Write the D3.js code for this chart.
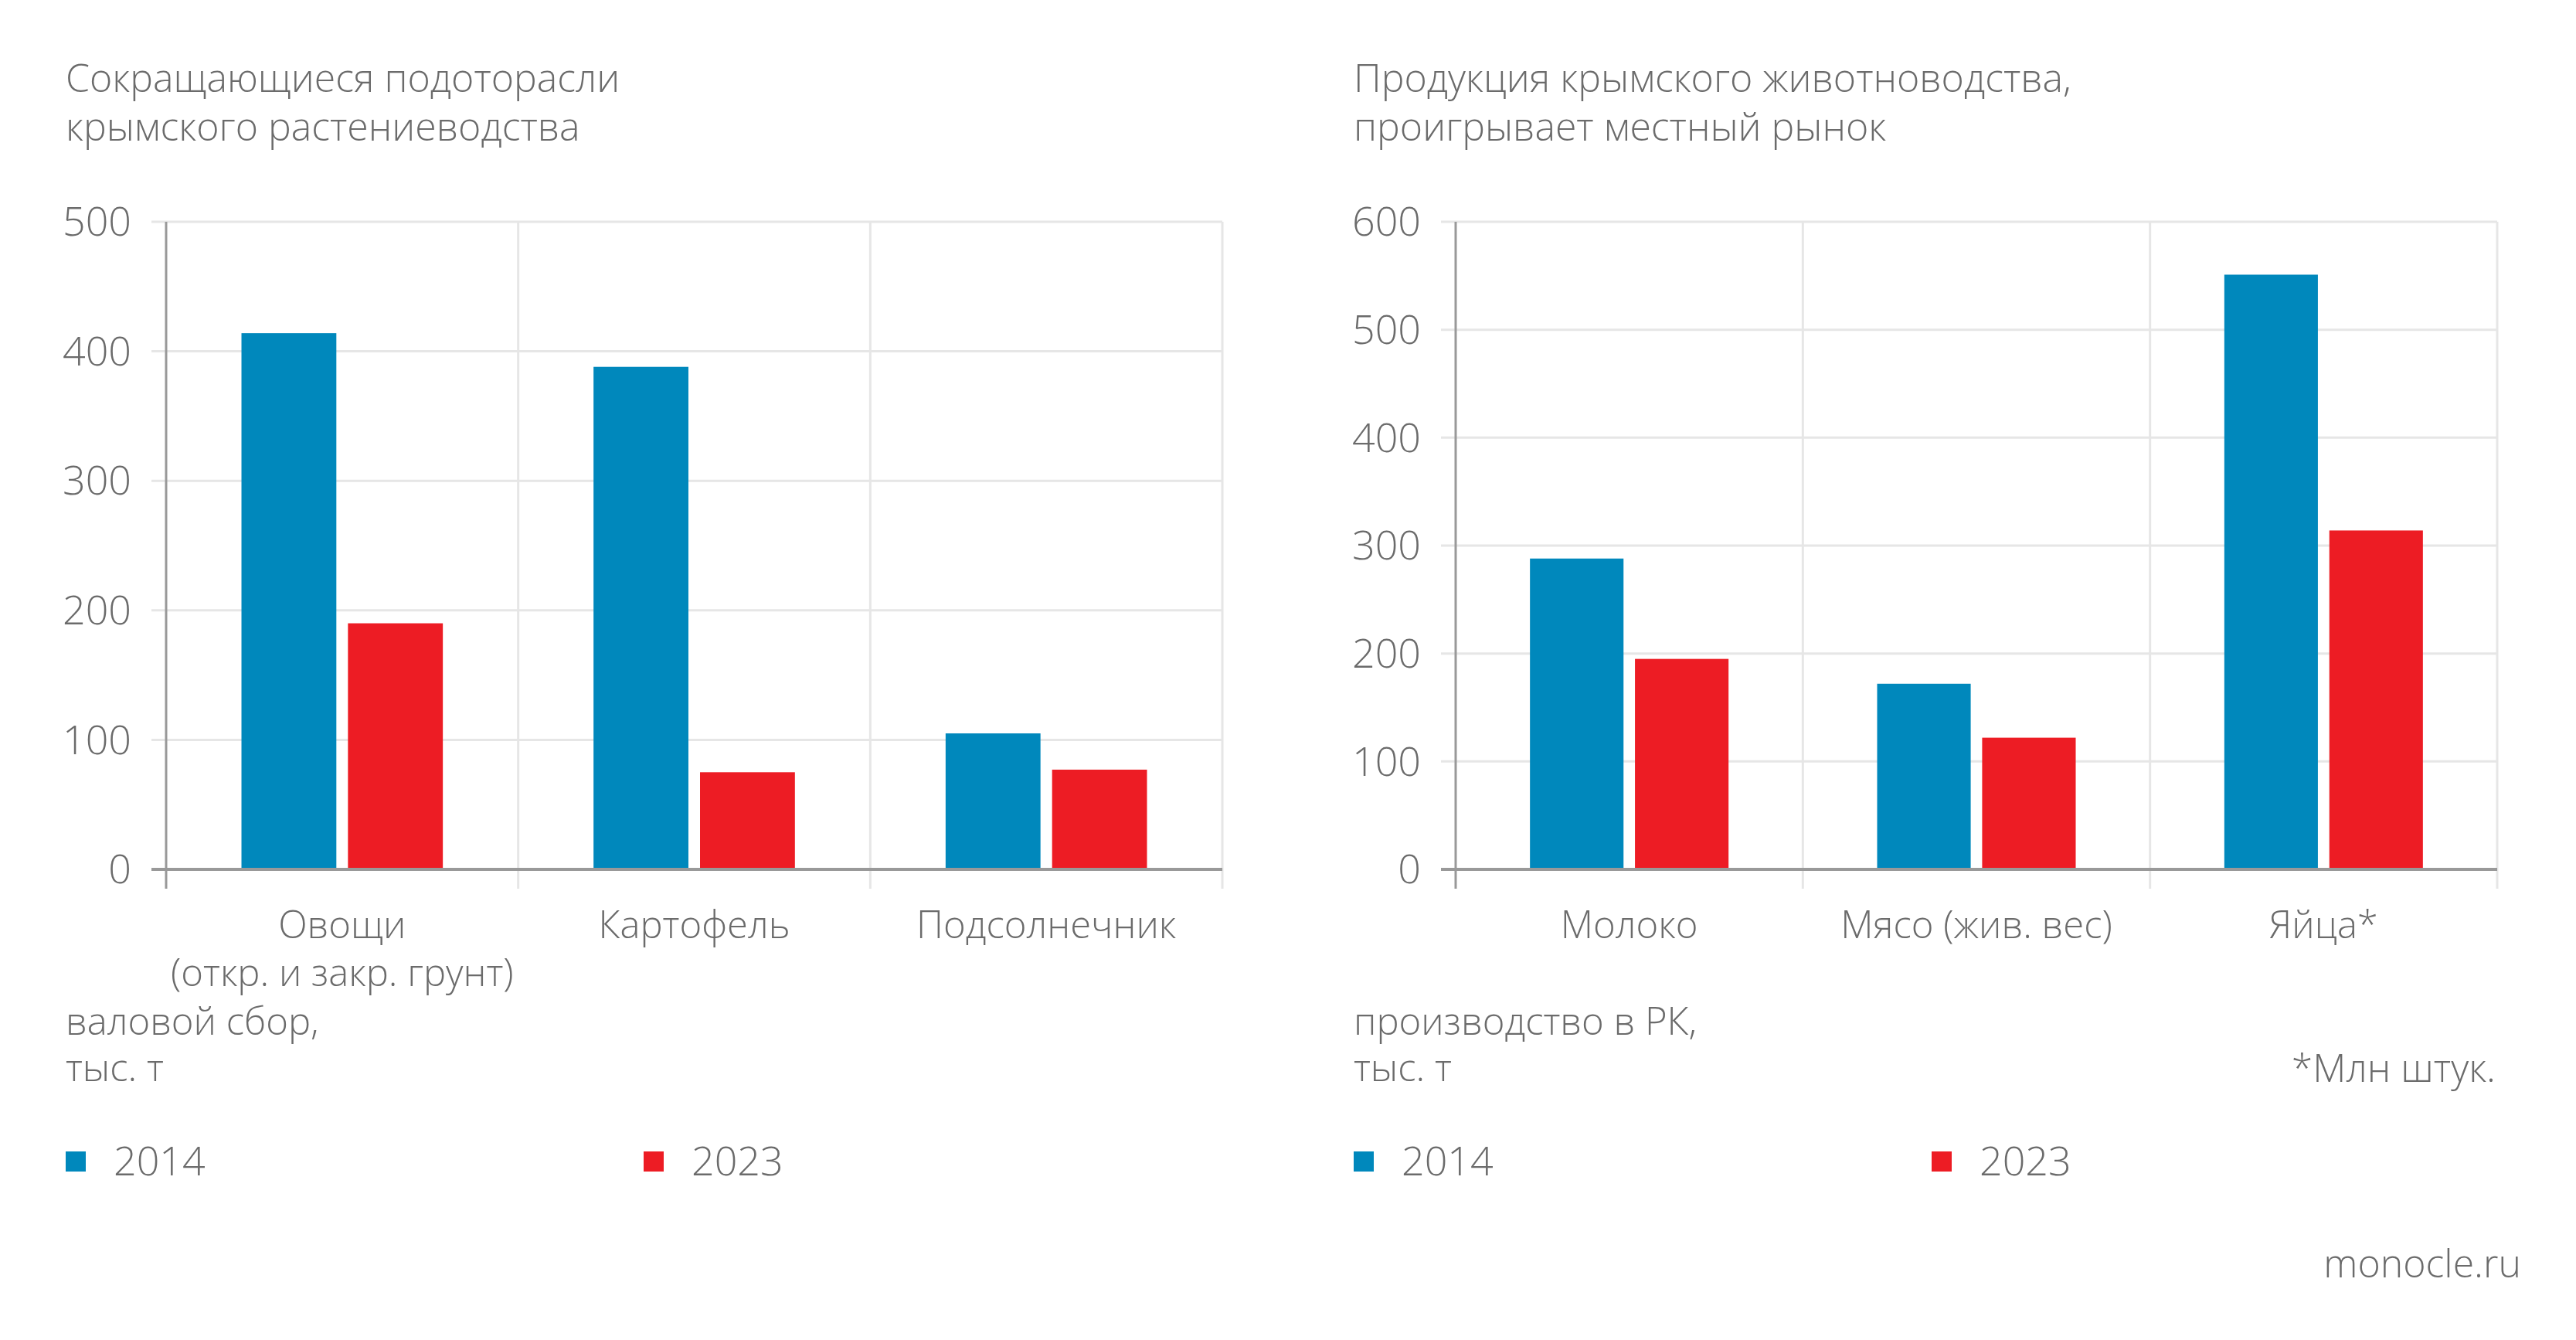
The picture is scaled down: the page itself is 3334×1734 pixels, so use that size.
<!DOCTYPE html>
<html><head><meta charset="utf-8">
<script src="https://cdn.jsdelivr.net/npm/d3@7"></script>
<style>
html,body{margin:0;padding:0;background:#fff;}
text{font-family:"Open Sans","Noto Sans",sans-serif;fill:#6b6b6b;font-weight:300;}
</style></head>
<body><svg id="c" width="3334" height="1734"></svg>
<script>
const series = ["2014", "2023"];
const colors = ["#0088bc", "#ed1c24"];

const leftCategories = ["Овощи", "Картофель", "Подсолнечник"];
const leftLabels = [["Овощи", "(откр. и закр. грунт)"], ["Картофель"], ["Подсолнечник"]];
const left2014 = [414, 388, 105];
const left2023 = [190, 75, 77];
const leftTicks = [0, 100, 200, 300, 400, 500];

const rightCategories = ["Молоко", "Мясо (жив. вес)", "Яйца*"];
const rightLabels = [["Молоко"], ["Мясо (жив. вес)"], ["Яйца*"]];
const right2014 = [288, 172, 551];
const right2023 = [195, 122, 314];
const rightTicks = [0, 100, 200, 300, 400, 500, 600];

const svg = d3.select("#c");
const FS = 49;
const FT = 50;
const FD = 52;

function panel(opt) {
  const g = svg.append("g");
  const y = d3.scaleLinear().domain([0, d3.max(opt.ticks)]).range([opt.y0, opt.y1]);
  const x0 = d3.scaleBand().domain(opt.categories).range([opt.xL, opt.xR]).padding(0);
  const groupW = x0.bandwidth() * 0.572;
  const x1 = d3.scaleBand().domain(series).range([0, groupW]).paddingInner(0.109);

  g.selectAll(".hg").data(opt.ticks.filter(t => t > 0)).join("line")
    .attr("x1", opt.xL - 19).attr("x2", opt.xR)
    .attr("y1", d => y(d)).attr("y2", d => y(d))
    .attr("stroke", "#e6e6e6").attr("stroke-width", 3);
  g.selectAll(".vg").data(opt.categories).join("line")
    .attr("x1", d => x0(d) + x0.bandwidth()).attr("x2", d => x0(d) + x0.bandwidth())
    .attr("y1", opt.y1).attr("y2", opt.y0 + 25)
    .attr("stroke", "#e6e6e6").attr("stroke-width", 3);

  const vals = [opt.v2014, opt.v2023];
  opt.categories.forEach((c, i) => {
    series.forEach((s, j) => {
      g.append("rect")
        .attr("x", x0(c) + (x0.bandwidth() - groupW) / 2 + x1(s))
        .attr("width", x1.bandwidth())
        .attr("y", y(vals[j][i]))
        .attr("height", y(0) - y(vals[j][i]))
        .attr("fill", colors[j]);
    });
  });

  g.append("line").attr("x1", opt.xL).attr("x2", opt.xL)
    .attr("y1", opt.y1).attr("y2", opt.y0 + 25).attr("stroke", "#999").attr("stroke-width", 3);
  g.append("line").attr("x1", opt.xL - 19).attr("x2", opt.xR)
    .attr("y1", y(0)).attr("y2", y(0)).attr("stroke", "#999").attr("stroke-width", 4);

  g.selectAll(".yl").data(opt.ticks).join("text")
    .attr("x", opt.xL - 45).attr("y", d => y(d)).attr("dy", "0.35em")
    .attr("text-anchor", "end").attr("font-size", FD).text(d => d);

  opt.categories.forEach((c, i) => {
    opt.labels[i].forEach((ln, k) => {
      g.append("text").attr("x", x0(c) + x0.bandwidth() / 2).attr("y", 1197 + k * 62)
        .attr("dy", "0.35em").attr("text-anchor", "middle").attr("font-size", FS).text(ln);
    });
  });

  opt.title.forEach((ln, k) => {
    g.append("text").attr("x", opt.tx).attr("y", 101 + k * 63).attr("dy", "0.35em")
      .attr("font-size", FT).text(ln);
  });
  opt.unit.forEach((ln, k) => {
    g.append("text").attr("x", opt.tx).attr("y", 1322 + k * 60).attr("dy", "0.35em")
      .attr("font-size", FS).text(ln);
  });
  series.forEach((s, j) => {
    const lx = opt.tx + j * opt.legendStep;
    g.append("rect").attr("x", lx).attr("y", 1490).attr("width", 26).attr("height", 26).attr("fill", colors[j]);
    g.append("text").attr("x", lx + 62).attr("y", 1503).attr("dy", "0.35em").attr("font-size", FD).text(s);
  });
}

panel({
  categories: leftCategories, labels: leftLabels, v2014: left2014, v2023: left2023, ticks: leftTicks,
  xL: 215, xR: 1582, y0: 1125, y1: 287, tx: 85, legendStep: 748,
  title: ["Сокращающиеся подоторасли", "крымского растениеводства"],
  unit: ["валовой сбор,", "тыс. т"]
});
panel({
  categories: rightCategories, labels: rightLabels, v2014: right2014, v2023: right2023, ticks: rightTicks,
  xL: 1884, xR: 3232, y0: 1125, y1: 287, tx: 1752, legendStep: 748,
  title: ["Продукция крымского животноводства,", "проигрывает местный рынок"],
  unit: ["производство в РК,", "тыс. т"]
});

svg.append("text").attr("x", 3230).attr("y", 1382).attr("dy", "0.35em").attr("text-anchor", "end")
  .attr("font-size", FT).text("*Млн штук.");
svg.append("text").attr("x", 3263).attr("y", 1635).attr("dy", "0.35em").attr("text-anchor", "end")
  .attr("font-size", FT).text("monocle.ru");
</script></body></html>
